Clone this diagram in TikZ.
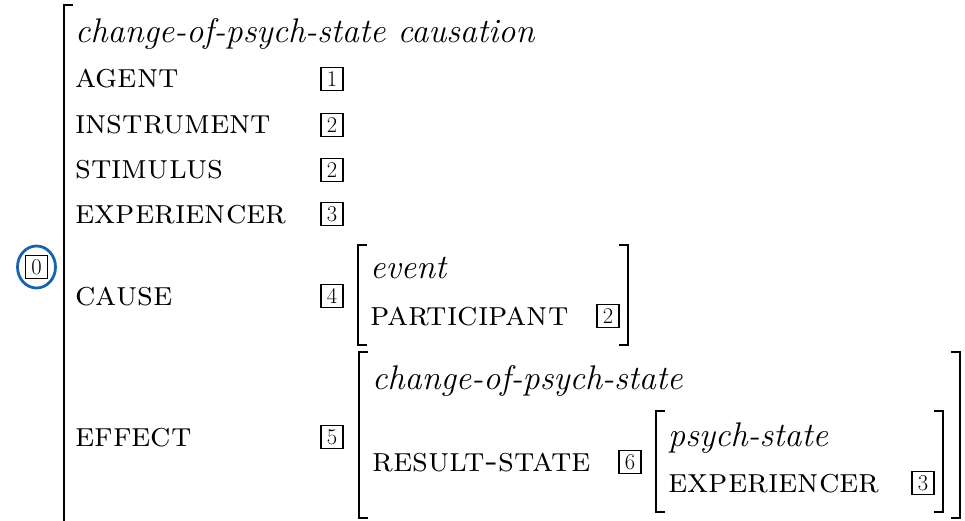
\documentclass[tikz,border=0pt]{standalone}
\definecolor{circblue}{RGB}{22,100,172}
\tikzset{
  lbl/.style={anchor=base west, inner sep=0pt, font=\fontsize{34.6}{40}\selectfont\scshape},
  typ/.style={anchor=base west, inner sep=0pt, font=\fontsize{34.2}{40}\selectfont\itshape},
  tagbox/.style={draw, line width=1.2pt, minimum width=22pt, minimum height=23pt, inner sep=0pt, font=\fontsize{22.5}{24}\selectfont},
  brk/.style={line width=2pt, line cap=butt},
  ring/.style={draw=circblue, line width=2.8pt, ellipse, minimum width=38pt, minimum height=42pt}
}
\usetikzlibrary{shapes.geometric}
\begin{document}
\begin{tikzpicture}[x=1pt,y=-1pt]
\useasboundingbox (0,0) rectangle (965,521);
% outer structure
\draw[brk] (73,5) -- (64,5) -- (64,530);
\node[tagbox] (t0) at (36.5,267) {0};
\node[ring] (r0) at (36.5,267) {};
\node[typ] (title) at (75,43) {change-of-psych-state causation};
\node[lbl] (agent) at (75,88) {agent};
\node[tagbox] (t1) at (332,79) {1};
\node[lbl] (instr) at (75,134) {instrument};
\node[tagbox] (t2a) at (332,125) {2};
\node[lbl] (stim) at (75,179) {stimulus};
\node[tagbox] (t2b) at (332,170) {2};
\node[lbl] (exp) at (75,223) {experiencer};
\node[tagbox] (t3a) at (332,214) {3};
\node[lbl] (cause) at (75,305) {cause};
\node[tagbox] (t4) at (332,296) {4};
\node[lbl] (effect) at (75,446) {effect};
\node[tagbox] (t5) at (332,437) {5};
% cause AVM
\draw[brk] (367,245) -- (358,245) -- (358,345) -- (367,345);
\draw[brk] (619,245) -- (628,245) -- (628,345) -- (619,345);
\node[typ] (event) at (370,278) {event};
\node[lbl] (part) at (370,325) {participant};
\node[tagbox] (t2c) at (608,316) {2};
% effect AVM
\draw[brk] (368,352) -- (359,352) -- (359,518) -- (368,518);
\draw[brk] (951,352) -- (960,352) -- (960,518) -- (951,518);
\node[typ] (cops) at (372,389) {change-of-psych-state};
\node[lbl] (result) at (372,471) {result-state};
\node[tagbox] (t6) at (630,462) {6};
% inner AVM
\draw[brk] (665,411) -- (656,411) -- (656,512) -- (665,512);
\draw[brk] (934,411) -- (943,411) -- (943,512) -- (934,512);
\node[typ] (ps) at (668,446) {psych-state};
\node[lbl] (exp2) at (668,492) {experiencer};
\node[tagbox] (t3b) at (923,483) {3};
\end{tikzpicture}
\end{document}
